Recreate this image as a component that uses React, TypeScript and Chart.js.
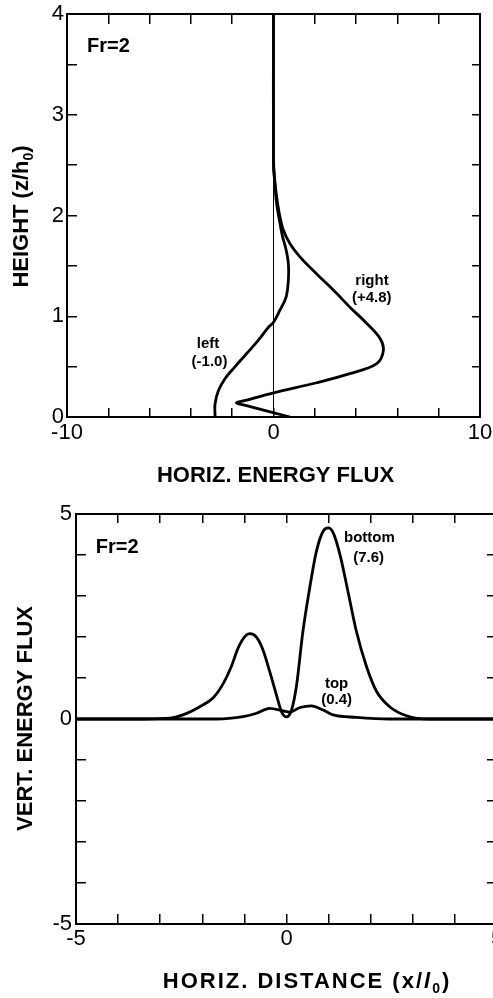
import { useEffect, useRef } from "react";
import { Chart, registerables } from "chart.js";

Chart.register(...registerables);

const FONT = '"Liberation Sans", Arial, Helvetica, sans-serif';

// Upper panel: horizontal energy flux versus height
const leftFlux = [-2.83, -2.83, -2.67, -2.35, -1.86, -1.3, -0.74, -0.25, 0.0, 0.31, 0.61, 0.72, 0.72, 0.61, 0.44, 0.28, 0.15, 0.07, 0.02, 0, 0];
const leftHeight = [0, 0.13, 0.26, 0.38, 0.5, 0.63, 0.76, 0.89, 0.94, 1.06, 1.19, 1.36, 1.52, 1.66, 1.79, 1.96, 2.12, 2.29, 2.45, 2.6, 4];
const rightFlux = [0.8, -1.4, -1.8, -1.4, 0.0, 2.09, 3.7, 5.0, 5.32, 5.16, 4.51, 3.7, 2.9, 2.09, 1.28, 0.8, 0.47, 0.28, 0.15, 0.06, 0, 0];
const rightHeight = [0, 0.118, 0.14, 0.162, 0.24, 0.34, 0.43, 0.53, 0.66, 0.78, 0.93, 1.09, 1.26, 1.42, 1.59, 1.72, 1.86, 2.02, 2.19, 2.35, 2.5, 4];
const zeroFlux = [0, 0];
const zeroHeight = [0, 4];
const fluxTickLabels = [-10, 0, 10];
const heightTickLabels = [0, 1, 2, 3, 4];

// Lower panel: vertical energy flux versus horizontal distance
const bottomDistance = [-5, -3.4, -2.77, -2.46, -2.06, -1.74, -1.51, -1.31, -1.15, -0.99, -0.87, -0.71, -0.56, -0.4, -0.24, -0.12, 0, 0.12, 0.24, 0.39, 0.55, 0.71, 0.87, 0.99, 1.11, 1.27, 1.46, 1.66, 1.9, 2.14, 2.45, 2.85, 3.4, 5];
const bottomFlux = [0, 0, 0.02, 0.1, 0.3, 0.52, 0.85, 1.28, 1.73, 2.01, 2.08, 1.99, 1.69, 1.16, 0.59, 0.18, 0.05, 0.22, 0.83, 2.14, 3.19, 4.09, 4.58, 4.66, 4.54, 4.01, 3.11, 2.14, 1.28, 0.67, 0.3, 0.08, 0, 0];
const topDistance = [-5, -1.66, -1.03, -0.71, -0.4, -0.08, 0.08, 0.32, 0.59, 0.87, 1.11, 1.66, 2.45, 5];
const topFlux = [0, 0, 0.06, 0.14, 0.26, 0.2, 0.17, 0.28, 0.32, 0.22, 0.1, 0.04, 0, 0];
const distanceTickLabels = [-5, 0, 5];
const vertFluxTickLabels = [-5, 0, 5];

type Label = { text: string; x: number; y: number; size: number; align?: CanvasTextAlign };

const upperLabels: Label[] = [
  { text: "Fr=2", x: -9.03, y: 3.68, size: 20, align: "left" },
  { text: "right", x: 4.77, y: 1.35, size: 15 },
  { text: "(+4.8)", x: 4.76, y: 1.18, size: 15 },
  { text: "left", x: -3.17, y: 0.73, size: 15 },
  { text: "(-1.0)", x: -3.1, y: 0.545, size: 15 },
];

const lowerLabels: Label[] = [
  { text: "Fr=2", x: -4.53, y: 4.18, size: 20, align: "left" },
  { text: "bottom", x: 1.97, y: 4.42, size: 15 },
  { text: "(7.6)", x: 1.95, y: 3.94, size: 15 },
  { text: "top", x: 1.19, y: 0.86, size: 15 },
  { text: "(0.4)", x: 1.19, y: 0.47, size: 15 },
];

type Part = { t: string; sub?: boolean; italic?: boolean };
type Title = { parts: Part[]; x: number; y: number; rotate?: boolean; spacing?: number };

const pts = (xs: number[], ys: number[]) => xs.map((x, i) => ({ x, y: ys[i] }));

function drawParts(ctx: CanvasRenderingContext2D, title: Title, size: number) {
  ctx.save();
  ctx.translate(title.x, title.y);
  if (title.rotate) ctx.rotate(-Math.PI / 2);
  ctx.fillStyle = "#000";
  ctx.textBaseline = "middle";
  ctx.textAlign = "left";
  (ctx as any).letterSpacing = `${title.spacing ?? 0}px`;
  const fontOf = (p: Part) =>
    `${p.italic ? "italic " : ""}bold ${p.sub ? Math.round(size * 0.65) : size}px ${FONT}`;
  const widths = title.parts.map((p) => {
    ctx.font = fontOf(p);
    return ctx.measureText(p.t).width;
  });
  const total = widths.reduce((a, b) => a + b, 0);
  let x = -total / 2;
  title.parts.forEach((p, i) => {
    ctx.font = fontOf(p);
    ctx.fillText(p.t, x, p.sub ? size * 0.32 : 0);
    x += widths[i];
  });
  ctx.restore();
}

function overlay(titles: Title[], labels: Label[]) {
  return {
    id: "overlay",
    afterDraw(chart: Chart) {
      const { ctx, scales } = chart;
      titles.forEach((t) => drawParts(ctx, t, 22));
      ctx.save();
      ctx.fillStyle = "#000";
      ctx.textBaseline = "middle";
      labels.forEach((l) => {
        ctx.font = `bold ${l.size}px ${FONT}`;
        ctx.textAlign = l.align ?? "center";
        ctx.fillText(l.text, scales.x.getPixelForValue(l.x), scales.y.getPixelForValue(l.y));
      });
      ctx.restore();
    },
  };
}

function frameAxis(
  position: "top" | "bottom" | "left" | "right",
  min: number,
  max: number,
  step: number,
  labels: number[] | null,
  padding: number,
  size: number,
  tickLength: number
) {
  return {
    type: "linear" as const,
    position,
    min,
    max,
    afterFit: (s: any) => {
      if (s.isHorizontal()) s.height = size;
      else s.width = size;
      // tick labels may overhang the frame; the frame itself stays fixed
      s.paddingLeft = s.paddingRight = s.paddingTop = s.paddingBottom = 0;
    },
    ticks: {
      display: labels !== null,
      stepSize: step,
      autoSkip: false,
      maxRotation: 0,
      padding,
      color: "#000",
      font: { family: FONT, size: 22 },
      callback: (v: any) => (labels && labels.includes(Number(v)) ? String(v) : ""),
    },
    grid: {
      display: true,
      drawOnChartArea: false,
      drawTicks: true,
      tickLength,
      color: "#000",
      lineWidth: 1.5,
    },
    border: { display: true, color: "#000", width: 2 },
  };
}

const curve = (data: { x: number; y: number }[], width: number, extra: object = {}) => ({
  data,
  showLine: true,
  borderColor: "#000",
  borderWidth: width,
  pointRadius: 0,
  fill: false,
  ...extra,
});

export default function App() {
  const upperRef = useRef<HTMLCanvasElement>(null);
  const lowerRef = useRef<HTMLCanvasElement>(null);

  useEffect(() => {
    const common = {
      animation: false as const,
      responsive: false,
      devicePixelRatio: 1,
      events: [] as any[],
      plugins: { legend: { display: false }, tooltip: { enabled: false } },
    };

    const upper = new Chart(upperRef.current!, {
      type: "scatter",
      data: {
        datasets: [
          curve(pts(zeroFlux, zeroHeight), 1),
          curve(pts(leftFlux, leftHeight), 2.8, { tension: 0.35 }),
          curve(pts(rightFlux, rightHeight), 2.8, { tension: 0.35 }),
        ],
      },
      options: {
        ...common,
        layout: { autoPadding: false, padding: { left: 0, right: 13, top: 14, bottom: 0 } },
        scales: {
          x: frameAxis("bottom", -10, 10, 2, fluxTickLabels, 12, 78, -9),
          x2: frameAxis("top", -10, 10, 2, null, 0, 0, -10),
          y: frameAxis("left", 0, 4, 0.5, heightTickLabels, 13, 67, -10),
          y2: frameAxis("right", 0, 4, 0.5, null, 0, 0, -8),
        },
      } as any,
      plugins: [
        overlay(
          [
            { parts: [{ t: "HORIZ. ENERGY FLUX" }], x: 275.5, y: 476 },
            { parts: [{ t: "HEIGHT (z/h" }, { t: "0", sub: true }, { t: ")" }], x: 22, y: 216.5, rotate: true },
          ],
          upperLabels
        ),
      ],
    });

    const lower = new Chart(lowerRef.current!, {
      type: "scatter",
      data: {
        datasets: [
          curve(pts(topDistance, topFlux), 2.8, { cubicInterpolationMode: "monotone" }),
          curve(pts(bottomDistance, bottomFlux), 2.8, { cubicInterpolationMode: "monotone" }),
        ],
      },
      options: {
        ...common,
        layout: { autoPadding: false, padding: { left: 0, right: 23, top: 19, bottom: 0 } },
        scales: {
          x: frameAxis("bottom", -5, 5, 1, distanceTickLabels, 12, 74, -10),
          x2: frameAxis("top", -5, 5, 1, null, 0, 0, -9),
          y: frameAxis("left", -5, 5, 1, vertFluxTickLabels, 14, 76, -10),
          y2: frameAxis("right", -5, 5, 1, null, 0, 0, -10),
        },
      } as any,
      plugins: [
        overlay(
          [
            {
              parts: [{ t: "HORIZ. DISTANCE (x/" }, { t: "l", italic: true }, { t: "0", sub: true }, { t: ")" }],
              x: 307,
              y: 486.7,
              spacing: 2,
            },
            { parts: [{ t: "VERT. ENERGY FLUX" }], x: 25.5, y: 223.5, rotate: true },
          ],
          lowerLabels
        ),
      ],
    });

    return () => {
      upper.destroy();
      lower.destroy();
    };
  }, []);

  return (
    <div style={{ position: "absolute", left: 0, top: 0, width: 493, height: 998, overflow: "hidden", background: "#fff" }}>
      <canvas ref={upperRef} width={493} height={495} style={{ position: "absolute", left: 0, top: 0, display: "block" }} />
      <canvas ref={lowerRef} width={520} height={503} style={{ position: "absolute", left: 0, top: 495, display: "block" }} />
    </div>
  );
}
